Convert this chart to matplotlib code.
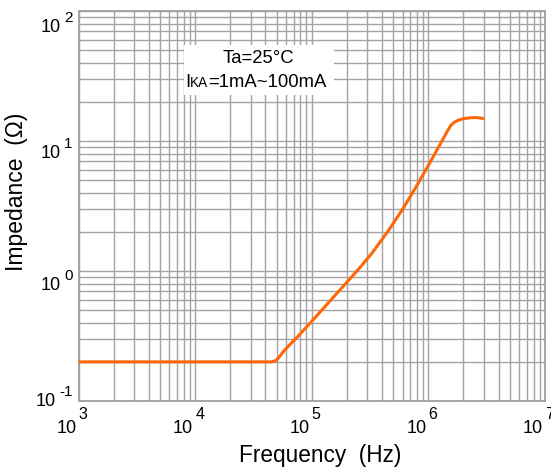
import matplotlib
matplotlib.use('Agg')
import matplotlib.pyplot as plt
from matplotlib.transforms import ScaledTranslation, blended_transform_factory
from matplotlib.patches import Rectangle

# ---- data ----
freq_hz = [1e3, 1e4, 4.5e4, 4.9e4, 5.2e4, 5.6e4, 6.2e4, 7.5e4, 1e5, 1.5e5, 2e5,
           2.5e5, 3.3e5, 4.5e5, 6.1e5, 8e5, 1e6, 1.25e6, 1.45e6, 1.55e6, 1.65e6,
           1.8e6, 2.0e6, 2.3e6, 2.6e6, 2.95e6]
impedance_ohm = [0.2, 0.2, 0.2, 0.204, 0.215, 0.235, 0.26, 0.31, 0.41, 0.615, 0.82,
                 1.025, 1.38, 2.02, 3.05, 4.58, 6.5, 9.3, 11.85, 13.1, 13.85,
                 14.45, 14.85, 15.1, 15.15, 14.9]
x_exponents = [3, 4, 5, 6, 7]
y_exponents = [-1, 0, 1, 2]
x_label = "Frequency  (Hz)"
y_label = "Impedance  (Ω)"
note_line1 = "Ta=25°C"

plt.rcParams['font.family'] = ['Liberation Sans', 'DejaVu Sans']

W, H = 551, 469
fig = plt.figure(figsize=(W / 100, H / 100), dpi=100)
L, R, T, B = 78.5, 545, 11, 401
ax = fig.add_axes([L / W, (H - B) / H, (R - L) / W, (B - T) / H])
ax.set_xscale('log')
ax.set_yscale('log')
ax.set_xlim(1e3, 1e7)
ax.set_ylim(1e-1, 1e2)
ax.grid(True, which='both', color='#a3a3a3', lw=1.0)
ax.set_axisbelow(True)
ax.tick_params(which='both', length=0, labelbottom=False, labelleft=False)
for s in ax.spines.values():
    s.set_color('#a0a0a0')
    s.set_linewidth(1.3)

ax.plot(freq_hz, impedance_ohm, color='#ff6608', lw=2.2, solid_capstyle='round',
        solid_joinstyle='round', zorder=3)

def px(dx, dy):
    return ScaledTranslation(dx / 100, dy / 100, fig.dpi_scale_trans)

# x tick labels
xt = blended_transform_factory(ax.transData, ax.transAxes)
for e in x_exponents:
    ax.text(10.0 ** e, 0, "10", transform=xt + px(-2, -32), ha='right', va='baseline',
            fontsize=13, clip_on=False)
    ax.text(10.0 ** e, 0, str(e), transform=xt + px(0, -18), ha='left', va='baseline',
            fontsize=11.5, clip_on=False)

# y tick labels
yt = blended_transform_factory(ax.transAxes, ax.transData)
y_base_off = {-1: -5, 0: -19, 1: -17, 2: -21}
for e in y_exponents:
    ex = ax.text(0, 10.0 ** e, str(e), transform=yt + px(-6, y_base_off[e] + 10),
                 ha='right', va='baseline', fontsize=11, clip_on=False)
    fig.canvas.draw()
    w = ex.get_window_extent().width
    ax.text(0, 10.0 ** e, "10", transform=yt + px(-6 - w - 3, y_base_off[e]),
            ha='right', va='baseline', fontsize=13, clip_on=False)

# axis labels
fig.text(320 / W, 1 - 455 / H, x_label, ha='center', va='center', fontsize=16.3)
fig.text(17 / W, 1 - 192 / H, y_label, ha='center', va='center', fontsize=16.5, rotation=90)

# annotation box
ax.add_patch(Rectangle((184 / W, 1 - 95 / H), (334 - 184) / W, (95 - 45) / H,
                       transform=fig.transFigure, facecolor='white', edgecolor='none',
                       zorder=2))
fig.text(258 / W, 1 - 63 / H, note_line1, ha='center', va='baseline', fontsize=13.3, zorder=4)

# second line: I + small KA + rest
fig.canvas.draw()
rend = fig.canvas.get_renderer()
parts = [("I", 13.3), ("KA", 9.8), ("=1mA~100mA", 13.3)]
tmp = [fig.text(0, 0, s, fontsize=fs) for s, fs in parts]
widths = [t.get_window_extent(rend).width for t in tmp]
for t in tmp:
    t.remove()
total = sum(widths)
x0 = 256 - total / 2
for (s, fs), w in zip(parts, widths):
    fig.text(x0 / W, 1 - 87 / H, s, ha='left', va='baseline', fontsize=fs, zorder=4)
    x0 += w

fig.savefig('out.png', dpi=100)
